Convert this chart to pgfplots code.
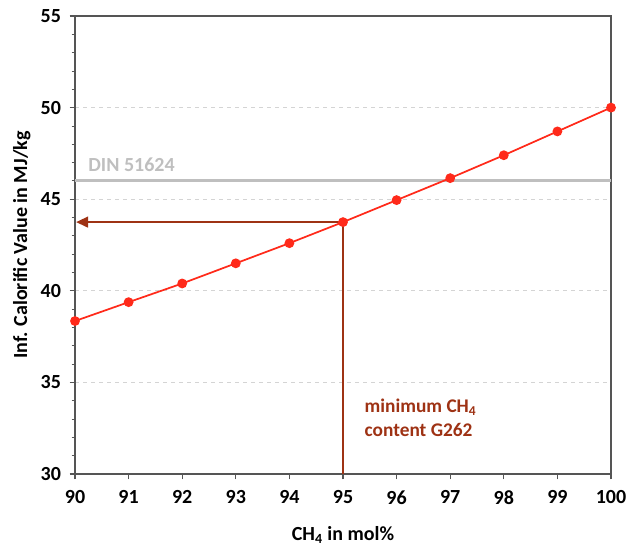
\documentclass[border=0pt]{standalone}
\usepackage{pgfplots}
\pgfplotsset{compat=1.18}
\usepackage{fontspec}
\setmainfont{Carlito}
\usetikzlibrary{arrows.meta}

\definecolor{redline}{HTML}{FF2A1A}
\definecolor{brownarrow}{HTML}{9E3214}
\definecolor{dinGrey}{HTML}{BFBFBF}
\definecolor{gridGrey}{HTML}{D4D4D4}
\definecolor{axGrey}{HTML}{555555}

\begin{document}
\begin{tikzpicture}
\begin{axis}[
  scale only axis,
  width=402pt, height=343.5pt,
  xmin=90, xmax=100, ymin=30, ymax=55,
  xtick={90,91,...,100},
  ytick={30,35,...,55},
  minor y tick num=4,
  tick align=outside,
  major tick length=4pt, minor tick length=2.5pt,
  xtick pos=bottom, ytick pos=left,
  axis line style={axGrey, line width=0.8pt},
  tick style={axGrey, line width=0.8pt},
  minor tick style={axGrey, line width=0.6pt},
  ymajorgrids=true,
  grid style={gridGrey, dashed, line width=0.7pt},
  /pgf/number format/assume math mode=true,
  ticklabel style={font=\fontsize{15}{18}\selectfont\bfseries},
  xticklabel style={yshift=-5pt},
  yticklabel style={xshift=-3pt},
  xlabel={\textbf{CH\textsubscript{4} in mol\%}},
  ylabel={\textbf{Inf. Calorific Value in MJ/kg}},
  label style={font=\fontsize{15}{18}\selectfont},
  xlabel style={at={(rel axis cs:0.5,0)}, anchor=center, yshift=-45.5pt},
  ylabel style={at={(rel axis cs:0,0.5)}, anchor=center, yshift=40pt},
  clip=false,
]
\coordinate (ll) at (rel axis cs:0,0);
\coordinate (ur) at (rel axis cs:1,1);
% DIN 51624 limit
\addplot[dinGrey, line width=2.2pt, forget plot] coordinates {(90,46) (100,46)};
\node[anchor=south west, text=dinGrey, font=\fontsize{15}{18}\selectfont\bfseries, inner sep=1pt]
  at (axis cs:90.22,46.4) {DIN 51624};
% minimum CH4 content arrow
\draw[brownarrow, line width=1.6pt, -{Triangle[length=9pt,width=8pt]}]
  (axis cs:95,30) -- (axis cs:95,43.75) -- (axis cs:90.02,43.75);
\node[anchor=north west, align=left, text=brownarrow, font=\fontsize{14.5}{17.5}\selectfont\bfseries, inner sep=0pt]
  at (axis cs:95.4,34.1) {minimum CH\textsubscript{4}\\content G262};
% calorific value
\addplot[redline, line width=1.3pt, mark=*, mark size=3pt, mark options={fill=redline, draw=redline}]
  coordinates {
    (90,38.35) (91,39.38) (92,40.4) (93,41.5) (94,42.6) (95,43.75)
    (96,44.95) (97,46.15) (98,47.4) (99,48.7) (100,50.0)
  };
\end{axis}
\pgfresetboundingbox
\useasboundingbox ([shift={(-56.25pt,-54.75pt)}]ll) rectangle ([shift={(12.75pt,12pt)}]ur);
\end{tikzpicture}
\end{document}
